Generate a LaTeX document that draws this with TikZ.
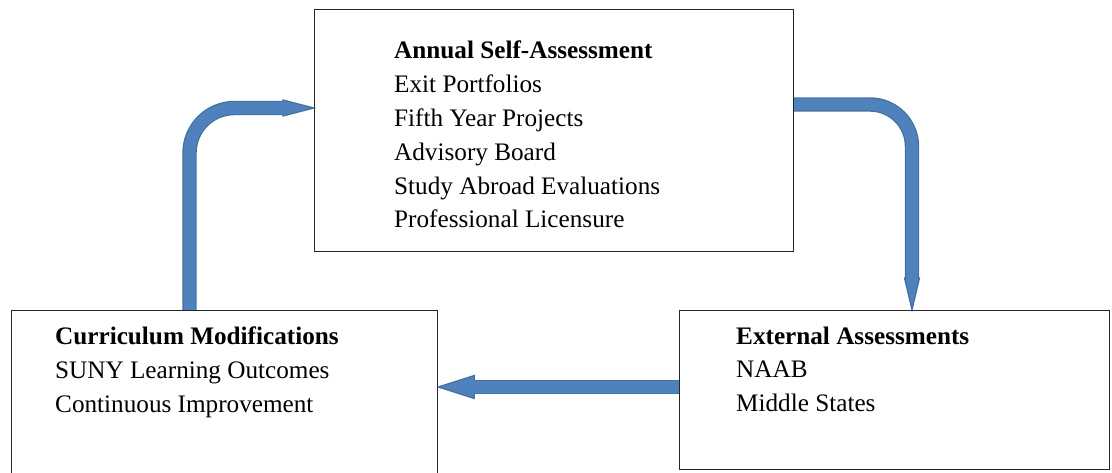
\documentclass[tikz,border=0pt]{standalone}
\usepackage{fontspec}
\setmainfont{Liberation Serif}
\usetikzlibrary{calc}
\definecolor{arrfill}{HTML}{4F81BD}
\definecolor{arrline}{HTML}{41719C}
\tikzset{
  box/.style={draw=black!85, line width=1.2pt, rectangle, anchor=north west, inner sep=0pt},
  txt/.style={anchor=north west, align=left, inner sep=0pt, font=\fontsize{25.2}{33.8}\selectfont},
  shaftout/.style={draw=arrline, line width=14.4pt, line cap=butt, line join=round},
  shaftin/.style={draw=arrfill, line width=12pt, line cap=butt, line join=round},
  head/.style={fill=arrfill, draw=arrline, line width=1.2pt, line join=miter},
}
\begin{document}
\begin{tikzpicture}[x=1pt, y=-1pt]
\useasboundingbox (0,0) rectangle (1112,473);
% boxes
\node[box, minimum width=479, minimum height=242] (sa) at (314,9) {};
\node[box, minimum width=426, minimum height=166] (cm) at (11,310) {};
\node[box, minimum width=430, minimum height=159] (ea) at (679,310) {};
% texts
\node[txt] (satext) at ($(sa.north west)+(80,32)$) {\textbf{Annual Self-Assessment}\\Exit Portfolios\\Fifth Year Projects\\Advisory Board\\Study Abroad Evaluations\\Professional Licensure};
\node[txt] (cmtext) at ($(cm.north west)+(44,16.5)$) {\textbf{Curriculum Modifications}\\SUNY Learning Outcomes\\Continuous Improvement};
\node[txt] (eatext) at ($(ea.north west)+(57,16.5)$) {\textbf{External Assessments}\\NAAB\\Middle States};
% connector: curriculum -> self-assessment
\coordinate (a1s) at ($(cm.north west)+(178.5,0)$);
\coordinate (a1t) at ($(sa.north west)+(0,99)$);
\coordinate (a1c) at (a1s |- a1t);
\coordinate (a1h) at ($(a1t)+(-31,0)$);
\draw[shaftout, rounded corners=45] (a1s) -- (a1c) -- (a1h);
\filldraw[head] (a1h) ++(0,-8) -- (a1t) -- ($(a1h)+(0,8)$) -- cycle;
\draw[shaftin, rounded corners=45] (a1s) -- (a1c) -- ($(a1h)+(1,0)$);
% connector: self-assessment -> external
\coordinate (a2s) at ($(sa.north east)+(0,95.5)$);
\coordinate (a2t) at ($(ea.north west)+(233,0)$);
\coordinate (a2c) at (a2t |- a2s);
\coordinate (a2h) at ($(a2t)+(0,-32)$);
\draw[shaftout, rounded corners=42] (a2s) -- (a2c) -- (a2h);
\filldraw[head] (a2h) ++(-7.5,0) -- (a2t) -- ($(a2h)+(7.5,0)$) -- cycle;
\draw[shaftin, rounded corners=42] (a2s) -- (a2c) -- ($(a2h)+(0,1)$);
% connector: external -> curriculum
\coordinate (a3s) at ($(ea.north west)+(0,77)$);
\coordinate (a3t) at ($(cm.north east)+(0,77)$);
\coordinate (a3h) at ($(a3t)+(36,0)$);
\draw[shaftout] (a3s) -- (a3h);
\filldraw[head] (a3h) ++(0,-11.5) -- (a3t) -- ($(a3h)+(0,11.5)$) -- cycle;
\draw[shaftin] (a3s) -- ($(a3h)+(-1,0)$);
\end{tikzpicture}
\end{document}
